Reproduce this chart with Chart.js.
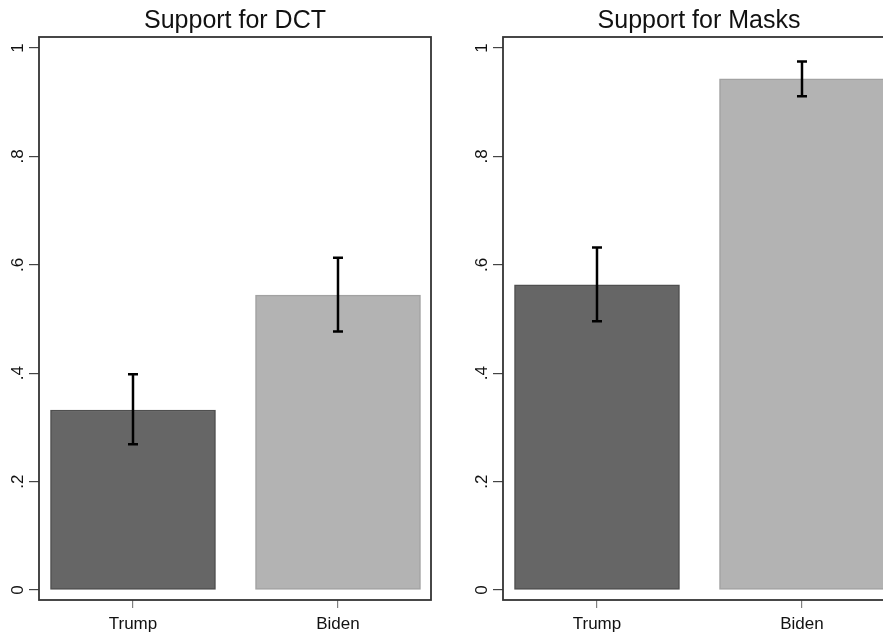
<!DOCTYPE html>
<html>
<head>
<meta charset="utf-8">
<script src="https://cdn.jsdelivr.net/npm/chart.js@4"></script>
<style>
  html, body { margin: 0; padding: 0; background: #fff; overflow: hidden; width: 883px; height: 634px; }
  .clip { position: absolute; top: 0; height: 634px; overflow: hidden; }
  #w1 { left: 0; width: 464px; }
  #w2 { left: 464px; width: 419px; }
  .panel { position: absolute; top: 0; left: 0; width: 464px; height: 634px; }
</style>
</head>
<body>
<div class="clip" id="w1"><div class="panel"><canvas id="c1" width="464" height="634"></canvas></div></div>
<div class="clip" id="w2"><div class="panel"><canvas id="c2" width="464" height="634"></canvas></div></div>
<script>
// ---- data ----
const categories = ["Trump", "Biden"];
const panelTitles = ["Support for DCT", "Support for Masks"];
const dctValues = [0.332, 0.544];
const dctLower = [0.269, 0.477];
const dctUpper = [0.398, 0.613];
const masksValues = [0.563, 0.943];
const masksLower = [0.496, 0.911];
const masksUpper = [0.632, 0.975];
const yTicks = [0, 0.2, 0.4, 0.6, 0.8, 1];
const yTickLabels = ["0", ".2", ".4", ".6", ".8", "1"];

const barFill = ["#666666", "#b3b3b3"];
const barBorder = ["#4f4f4f", "#a2a2a2"];
const FONT = "'Liberation Sans', Arial, sans-serif";

const framePlugin = {
  id: 'frame',
  afterDraw(chart) {
    const { ctx, chartArea: a } = chart;
    ctx.save();
    ctx.strokeStyle = '#333333';
    ctx.lineWidth = 1.8;
    ctx.strokeRect(a.left, a.top, a.right - a.left, a.bottom - a.top);
    ctx.restore();
  }
};

const errorBarPlugin = {
  id: 'errbars',
  afterDatasetsDraw(chart, args, opts) {
    const { ctx } = chart;
    const xs = chart.scales.x, ys = chart.scales.y;
    ctx.save();
    ctx.strokeStyle = '#000';
    opts.lower.forEach((lo, i) => {
      const x = xs.getPixelForValue(i + 1);
      const yl = ys.getPixelForValue(lo);
      const yu = ys.getPixelForValue(opts.upper[i]);
      ctx.lineWidth = 2.5;
      ctx.beginPath();
      ctx.moveTo(x, yl); ctx.lineTo(x, yu);
      ctx.stroke();
      ctx.beginPath();
      ctx.moveTo(x - 5, yl); ctx.lineTo(x + 5, yl);
      ctx.moveTo(x - 5, yu); ctx.lineTo(x + 5, yu);
      ctx.stroke();
    });
    ctx.restore();
  }
};

const yLabelPlugin = {
  id: 'ylabels',
  afterDraw(chart) {
    const { ctx } = chart;
    const ys = chart.scales.y;
    ctx.save();
    ctx.fillStyle = '#111';
    ctx.font = "17px " + FONT;
    ctx.textAlign = 'center';
    ctx.textBaseline = 'middle';
    ys.ticks.forEach((t, i) => {
      const y = ys.getPixelForValue(t.value);
      ctx.save();
      ctx.translate(18.5, y);
      ctx.rotate(-Math.PI / 2);
      ctx.fillText(yTickLabels[i], 0, 0);
      ctx.restore();
    });
    ctx.restore();
  }
};

function makeChart(id, title, values, lower, upper) {
  return new Chart(document.getElementById(id), {
    type: 'bar',
    data: {
      datasets: [{
        data: values.map((v, i) => ({ x: i + 1, y: v })),
        backgroundColor: barFill,
        borderColor: barBorder,
        borderWidth: 1.5,
        borderSkipped: false,
        barThickness: 165
      }]
    },
    options: {
      responsive: false,
      animation: false,
      devicePixelRatio: 1,
      layout: { padding: { left: 0, right: 33, top: 0, bottom: 0 } },
      plugins: {
        legend: { display: false },
        tooltip: { enabled: false },
        title: {
          display: true,
          text: title,
          fullSize: false,
          color: '#111',
          font: { family: FONT, size: 25, weight: 'normal' },
          padding: { top: 6, bottom: 1 }
        },
        errbars: { lower: lower, upper: upper }
      },
      scales: {
        x: {
          type: 'linear',
          min: 0.5415,
          max: 2.4537,
          offset: false,
          afterBuildTicks: s => { s.ticks = categories.map((c, i) => ({ value: i + 1 })); },
          afterFit: s => { s.height = 34; },
          grid: { display: true, offset: false, drawOnChartArea: false, drawTicks: true, tickLength: 8, color: '#808080', lineWidth: 1.2 },
          border: { display: false },
          ticks: {
            color: '#111',
            font: { family: FONT, size: 17 },
            padding: 6,
            maxRotation: 0,
            autoSkip: false,
            callback: (v) => categories[Math.round(v) - 1] || ''
          }
        },
        y: {
          type: 'linear',
          min: -0.0185,
          max: 1.0203,
          afterBuildTicks: s => { s.ticks = yTicks.map(v => ({ value: v })); },
          afterFit: s => { s.width = 39; },
          grid: { display: true, drawOnChartArea: false, drawTicks: true, tickLength: 10, color: '#444', lineWidth: 1.2 },
          border: { display: false },
          ticks: { display: false }
        }
      }
    },
    plugins: [framePlugin, errorBarPlugin, yLabelPlugin]
  });
}

makeChart('c1', panelTitles[0], dctValues, dctLower, dctUpper);
makeChart('c2', panelTitles[1], masksValues, masksLower, masksUpper);
</script>
</body>
</html>
